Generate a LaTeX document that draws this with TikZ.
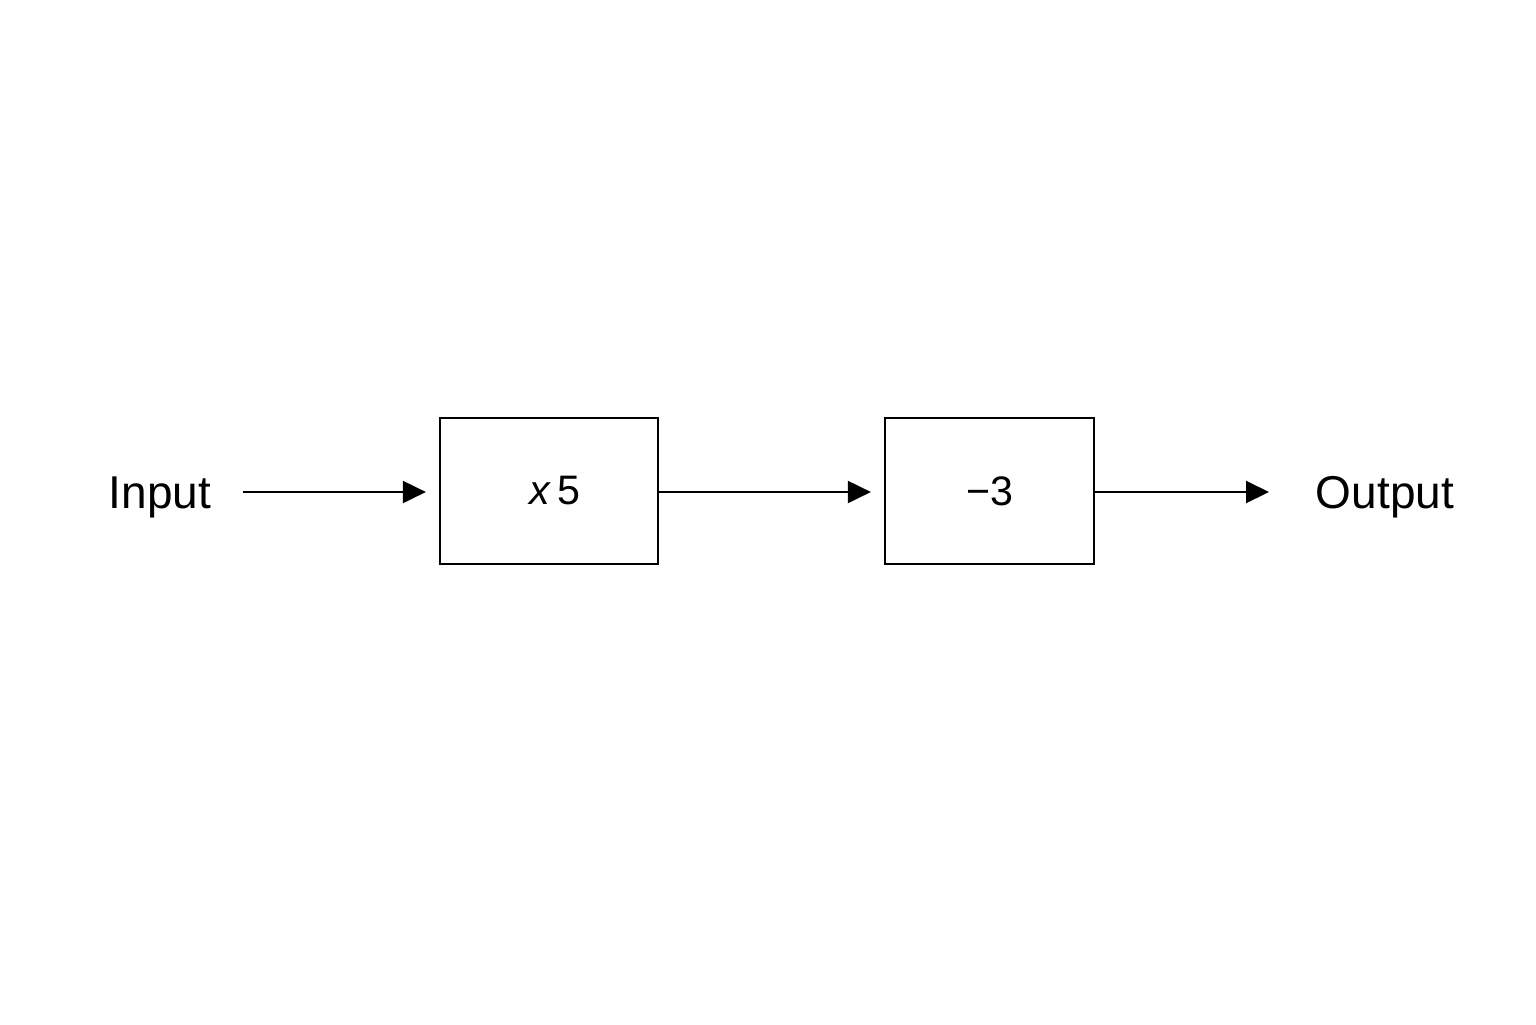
\documentclass[tikz,border=0pt]{standalone}
\usepackage{fontspec}
\setmainfont{Liberation Sans}
\usetikzlibrary{arrows.meta}
\begin{document}
\begin{tikzpicture}[x=0.5pt,y=-0.5pt,
  blk/.style={draw,line width=1.1pt,minimum height=73pt,inner sep=0pt,font=\fontsize{20.6}{24}\selectfont},
  lbl/.style={inner sep=0pt,anchor=base,font=\fontsize{23}{27}\selectfont},
  arr/.style={line width=1pt,-{Triangle[length=11.5pt,width=11pt]}}]
\useasboundingbox (0,0) rectangle (1536,1024);
\fill[white] (0,0) rectangle (1536,1024);
\node[lbl] (in) at (160,508) {Input};
\node[blk,minimum width=109pt] (b1) at (549,491) {\hspace{6pt}{\itshape x}\,5};
\node[blk,minimum width=104.5pt] (b2) at (989.5,491) {\textminus 3};
\node[lbl] (out) at (1385,508) {Output};
\coordinate (s1) at (243,492);
\coordinate (e3) at (1269,492);
\draw[arr,shorten >=6.5pt] (s1) -- (b1.west |- s1);
\draw[arr,shorten >=6.5pt] (b1.east |- s1) -- (b2.west |- s1);
\draw[arr] (b2.east |- s1) -- (e3);
\end{tikzpicture}
\end{document}
